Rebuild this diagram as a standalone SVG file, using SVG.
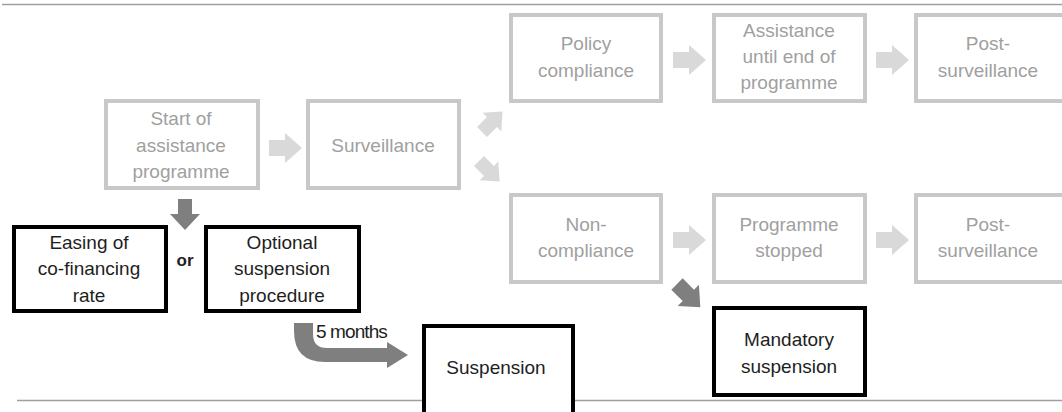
<svg xmlns="http://www.w3.org/2000/svg" width="1062" height="412" viewBox="0 0 1062 412">
<style>
.gbox{fill:#ffffff;stroke:#c8c8c8;stroke-width:4}
.bbox{fill:#ffffff;stroke:#000000;stroke-width:4}
.gt{font-family:"Liberation Sans",Arial,sans-serif;font-size:19px;fill:#a0a0a0;text-anchor:middle}
.bt{font-family:"Liberation Sans",Arial,sans-serif;font-size:19px;fill:#1e1e1e;text-anchor:middle}
.la{fill:#d9d9d9}
.da{fill:#7f7f7f}
.rule{stroke:#a0a0a0;stroke-width:1.5}
</style>
<defs>
<path id="ra" d="M0,-8 H16 V-15 L33,0 L16,15 V8 H0 Z"/>
</defs>
<rect width="1062" height="412" fill="#ffffff"/>
<line class="rule" x1="2" y1="4.5" x2="1062" y2="4.5"/>
<line class="rule" x1="17" y1="400.5" x2="1062" y2="400.5"/>

<g id="connectors">
<use href="#ra" class="la" transform="translate(269,148)"/>
<use href="#ra" class="la" transform="translate(673,60)"/>
<use href="#ra" class="la" transform="translate(876,60)"/>
<use href="#ra" class="la" transform="translate(673,240)"/>
<use href="#ra" class="la" transform="translate(876,240)"/>
<use href="#ra" class="la" transform="translate(482,132) rotate(-45) scale(0.88)"/>
<use href="#ra" class="la" transform="translate(479,161) rotate(45) scale(0.88)"/>
<use href="#ra" class="da" transform="translate(677,284) rotate(45) scale(1)"/>
<polygon class="da" points="178,199 192,199 192,214 200,214 185,230 170,214 178,214"/>
<path class="da" d="M294,323 H313 V334 Q313,348 327,348 H387 V342 L408,355 L387,368 V362 H325 Q294,362 294,331 Z"/>
<text x="185" y="266" class="bt" style="font-size:17px;font-weight:bold">or</text>
<text x="316" y="338" class="bt" style="font-size:19px;text-anchor:start;letter-spacing:-0.9px">5 months</text>
</g>

<g id="start">
<rect class="gbox" x="106" y="101" width="152" height="87"/>
<text class="gt" x="181" y="125">Start of</text>
<text class="gt" x="181" y="152">assistance</text>
<text class="gt" x="181" y="178">programme</text>
</g>
<g id="surveillance">
<rect class="gbox" x="308" y="101" width="151" height="87"/>
<text class="gt" x="383" y="152">Surveillance</text>
</g>
<g id="policy">
<rect class="gbox" x="511" y="15" width="150" height="86"/>
<text class="gt" x="586" y="50">Policy</text>
<text class="gt" x="586" y="77">compliance</text>
</g>
<g id="assistance">
<rect class="gbox" x="714" y="15" width="151" height="86"/>
<text class="gt" x="789" y="37">Assistance</text>
<text class="gt" x="789" y="63">until end of</text>
<text class="gt" x="789" y="89">programme</text>
</g>
<g id="post1">
<rect class="gbox" x="916" y="15" width="160" height="86"/>
<text class="gt" x="988" y="50">Post-</text>
<text class="gt" x="988" y="77">surveillance</text>
</g>
<g id="noncompliance">
<rect class="gbox" x="511" y="195" width="150" height="87"/>
<text class="gt" x="586" y="231">Non-</text>
<text class="gt" x="586" y="257">compliance</text>
</g>
<g id="stopped">
<rect class="gbox" x="714" y="195" width="151" height="87"/>
<text class="gt" x="789" y="231">Programme</text>
<text class="gt" x="789" y="257">stopped</text>
</g>
<g id="post2">
<rect class="gbox" x="916" y="195" width="160" height="87"/>
<text class="gt" x="988" y="231">Post-</text>
<text class="gt" x="988" y="257">surveillance</text>
</g>
<g id="easing">
<rect class="bbox" x="14" y="227" width="152" height="84"/>
<text class="bt" x="89" y="249">Easing of</text>
<text class="bt" x="89" y="275">co-financing</text>
<text class="bt" x="89" y="302">rate</text>
</g>
<g id="optional">
<rect class="bbox" x="206" y="227" width="153" height="84"/>
<text class="bt" x="282" y="249">Optional</text>
<text class="bt" x="282" y="275">suspension</text>
<text class="bt" x="282" y="302">procedure</text>
</g>
<g id="suspension">
<rect class="bbox" x="424" y="326" width="149" height="100"/>
<text class="bt" x="496" y="374">Suspension</text>
</g>
<g id="mandatory">
<rect class="bbox" x="714" y="308" width="151" height="87"/>
<text class="bt" x="789" y="346">Mandatory</text>
<text class="bt" x="789" y="373">suspension</text>
</g>
</svg>
